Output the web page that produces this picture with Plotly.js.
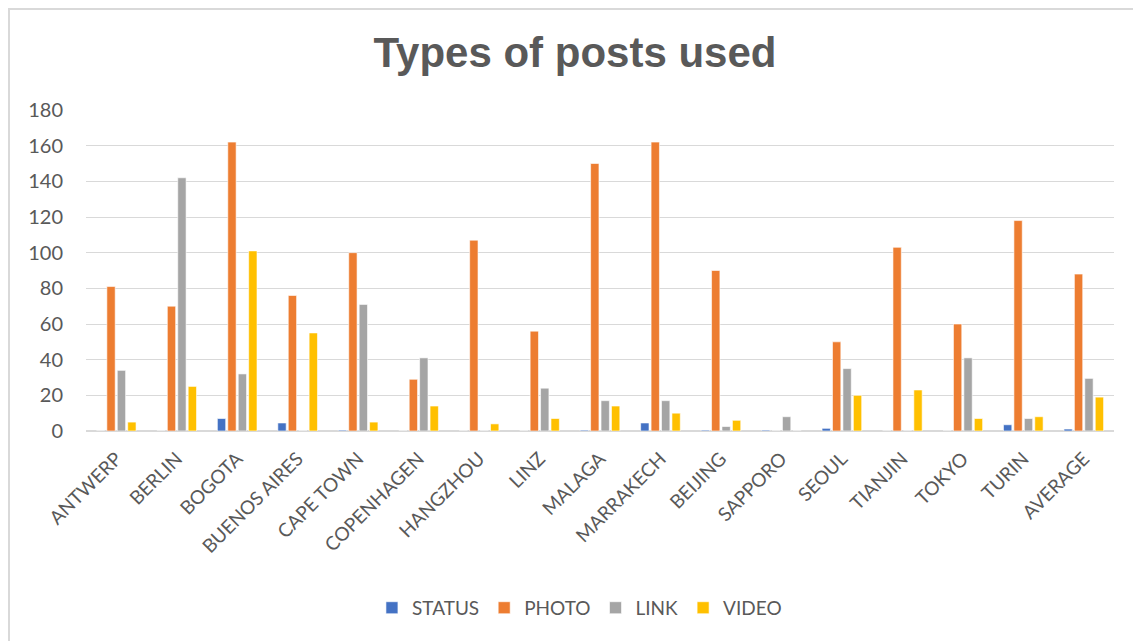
<!DOCTYPE html>
<html>
<head>
<meta charset="utf-8">
<script src="https://cdn.plot.ly/plotly-3.0.1.min.js"></script>
<style>
  html, body { margin: 0; padding: 0; background: #fff; overflow: hidden; }
  #wrap { position: relative; width: 1133px; height: 641px; overflow: hidden; }
  #chart { position: absolute; left: 0; top: 0; width: 1133px; height: 641px; }
  #fl { position: absolute; left: 8px; top: 8px; width: 2px; height: 640px; background: #d9d9d9; pointer-events: none; }
  #ft { position: absolute; left: 8px; top: 8px; width: 1130px; height: 2px; background: #d9d9d9; pointer-events: none; }
</style>
</head>
<body>
<div id="wrap">
  <div id="chart"></div>
  <div id="fl"></div>
  <div id="ft"></div>
</div>
<script>
const categories = ["ANTWERP","BERLIN","BOGOTA","BUENOS AIRES","CAPE TOWN","COPENHAGEN","HANGZHOU","LINZ","MALAGA","MARRAKECH","BEIJING","SAPPORO","SEOUL","TIANJIN","TOKYO","TURIN","AVERAGE"];
const statusVals = [0, 0, 7, 4.5, 0.5, 0, 0, 0, 0.5, 4.5, 0.5, 0.5, 1.5, 0, 0, 3.5, 1.1];
const photoVals  = [81, 70, 162, 76, 100, 29, 107, 56, 150, 162, 90, 0, 50, 103, 60, 118, 88];
const linkVals   = [34, 142, 32, 0, 71, 41, 0, 24, 17, 17, 2.5, 8, 35, 0, 41, 7, 29.5];
const videoVals  = [5, 25, 101, 55, 5, 14, 4, 7, 14, 10, 6, 0, 20, 23, 7, 8, 19];
const seriesNames = ["STATUS", "PHOTO", "LINK", "VIDEO"];
const seriesColors = ["#4472C4", "#ED7D31", "#A5A5A5", "#FFC000"];
const yTicks = [0, 20, 40, 60, 80, 100, 120, 140, 160, 180];

const allVals = [statusVals, photoVals, linkVals, videoVals];
const traces = allVals.map((vals, i) => ({
  type: "bar",
  name: seriesNames[i],
  x: categories,
  y: vals,
  marker: { color: seriesColors[i], line: { color: "#ffffff", width: 0.6 } },
  hoverinfo: "x+y+name"
}));

const font = "Lato, 'Open Sans', 'Liberation Sans', sans-serif";
const layout = {
  width: 1133, height: 641,
  paper_bgcolor: "rgba(0,0,0,0)",
  plot_bgcolor: "rgba(0,0,0,0)",
  margin: { l: 86, r: 19, t: 110, b: 210 },
  barmode: "group",
  bargap: 0.31,
  bargroupgap: 0.2,
  title: {
    text: "<b>Types of posts used</b>",
    font: { family: "'Liberation Sans', Arial, sans-serif", size: 42, color: "#595959" },
    x: 0.5075, xref: "container", xanchor: "center",
    y: 1 - 52 / 641, yref: "container", yanchor: "middle"
  },
  xaxis: {
    type: "category",
    tickangle: -45,
    tickfont: { family: font, size: 19, color: "#595959" },
    showline: false, showgrid: false, ticks: "",
    zeroline: false,
    ticklabelstandoff: 12
  },
  yaxis: {
    range: [0, 180],
    tickvals: yTicks,
    ticktext: yTicks.map(String),
    tickfont: { family: font, size: 20, color: "#595959" },
    showgrid: true, gridcolor: "#d9d9d9", gridwidth: 1,
    zeroline: true, zerolinecolor: "#d9d9d9", zerolinewidth: 2,
    showline: false, ticks: "", ticklen: 0,
    ticklabelstandoff: 22,
    fixedrange: true
  },
  legend: {
    orientation: "h",
    x: 0.48, xanchor: "center",
    y: -0.551, yanchor: "middle",
    font: { family: font, size: 19, color: "#595959" },
    itemwidth: 30,
    traceorder: "normal"
  },
  showlegend: true
};

Plotly.newPlot("chart", traces, layout, { displayModeBar: false, staticPlot: true });
</script>
</body>
</html>
